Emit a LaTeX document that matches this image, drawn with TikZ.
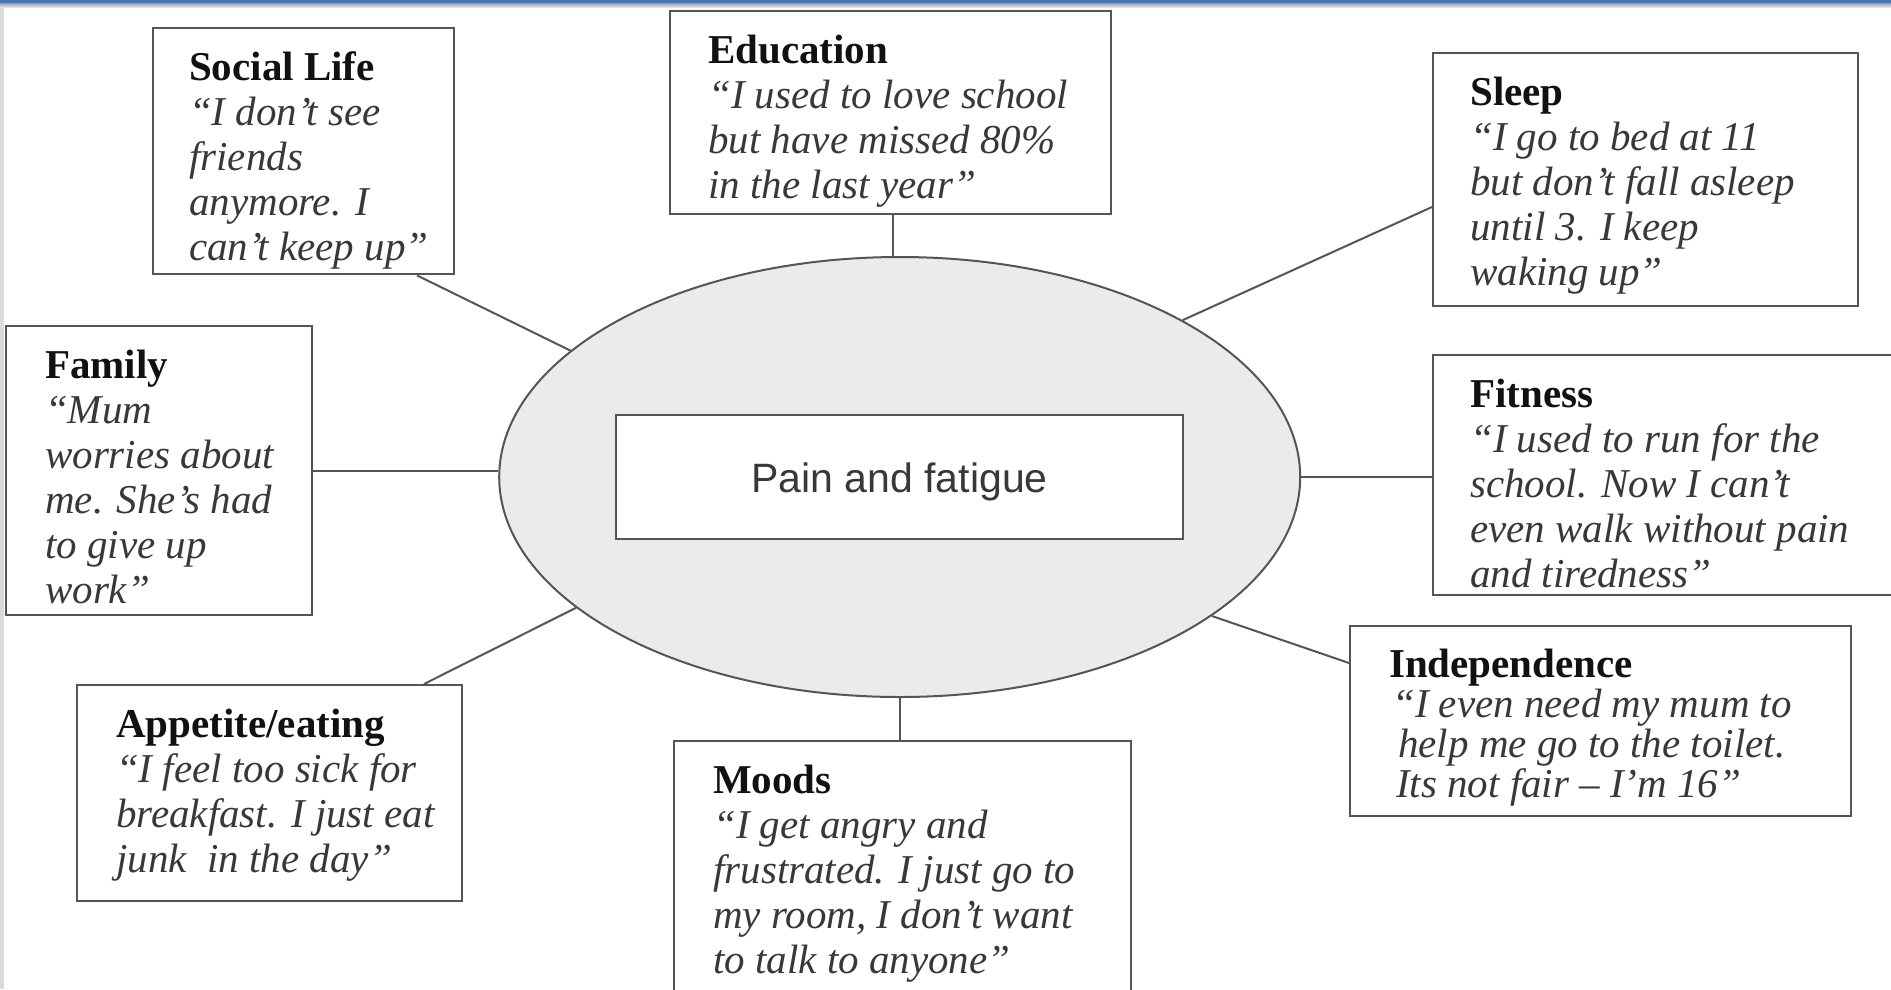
\documentclass[tikz,border=0pt]{standalone}
\usepackage{fontspec}
\setmainfont{Liberation Serif}
\newfontfamily\centerfont{Liberation Sans}
\usetikzlibrary{calc,shapes.geometric}
\definecolor{linegray}{HTML}{555555}
\definecolor{ellfill}{HTML}{EBEBEB}
\definecolor{txtgray}{HTML}{383838}
\definecolor{titleblack}{HTML}{111111}
\definecolor{barblue}{HTML}{4A74B8}
\definecolor{stripgray}{HTML}{DADADA}
\begin{document}
\begin{tikzpicture}[x=1pt,y=-1pt,
  qbox/.style={draw=linegray, line width=2.4pt, fill=white, inner sep=0pt, anchor=north west},
  qtext/.style={anchor=north west, inner sep=0pt, align=left, text=txtgray, font=\fontsize{41}{45}\selectfont},
  qtexttight/.style={qtext, font=\fontsize{41}{40}\selectfont},
  link/.style={draw=linegray, line width=2pt}]
\useasboundingbox (0,0) rectangle (1891,989);
\fill[white] (0,0) rectangle (1891,989);

% quote boxes
\node[qbox, minimum width=301pt, minimum height=246pt] (social) at (152,27) {};
\node[qbox, minimum width=441pt, minimum height=203pt] (edu) at (669,10) {};
\node[qbox, minimum width=425pt, minimum height=253pt] (sleep) at (1432,52) {};
\node[qbox, minimum width=306pt, minimum height=289pt] (family) at (5,325) {};
\node[qbox, minimum width=480pt, minimum height=240pt] (fitness) at (1432,354) {};
\node[qbox, minimum width=501pt, minimum height=190pt] (indep) at (1349,625) {};
\node[qbox, minimum width=385pt, minimum height=216pt] (appetite) at (76,684) {};
\node[qbox, minimum width=457pt, minimum height=290pt] (moods) at (673,740) {};

% texts
\node[qtext] (socialtxt) at ($(social.north west)+(37,21)$)
  {\rule{0pt}{32pt}{\bfseries\color{titleblack}Social Life}\\ \itshape “I don’t see\\ \itshape friends\\ \itshape anymore. I\\ \itshape can’t keep up”};
\node[qtext] (edutxt) at ($(edu.north west)+(39,21)$)
  {\rule{0pt}{32pt}{\bfseries\color{titleblack}Education}\\ \itshape “I used to love school\\ \itshape but have missed 80\%\\ \itshape in the last year”};
\node[qtext] (sleeptxt) at ($(sleep.north west)+(38,21)$)
  {\rule{0pt}{32pt}{\bfseries\color{titleblack}Sleep}\\ \itshape “I go to bed at 11\\ \itshape but don’t fall asleep\\ \itshape until 3. I keep\\ \itshape waking up”};
\node[qtext] (familytxt) at ($(family.north west)+(40,21)$)
  {\rule{0pt}{32pt}{\bfseries\color{titleblack}Family}\\ \itshape “Mum\\ \itshape worries about\\ \itshape me. She’s had\\ \itshape to give up\\ \itshape work”};
\node[qtext] (fitnesstxt) at ($(fitness.north west)+(38,21)$)
  {\rule{0pt}{32pt}{\bfseries\color{titleblack}Fitness}\\ \itshape “I used to run for the\\ \itshape school. Now I can’t\\ \itshape even walk without pain\\ \itshape and tiredness”};
\node[qtexttight] (indeptxt) at ($(indep.north west)+(40,20)$)
  {\rule{0pt}{32pt}{\bfseries\color{titleblack}Independence}\\ \itshape\hspace*{3pt}“I even need my mum to\\ \itshape\hspace*{9pt}help me go to the toilet.\\ \itshape\hspace*{7pt}Its not fair – I’m 16”};
\node[qtext] (appetitetxt) at ($(appetite.north west)+(40,21)$)
  {\rule{0pt}{32pt}{\bfseries\color{titleblack}Appetite/eating}\\ \itshape “I feel too sick for\\ \itshape breakfast. I just eat\\ \itshape junk\ \ in the day”};
\node[qtext] (moodstxt) at ($(moods.north west)+(40,21)$)
  {\rule{0pt}{32pt}{\bfseries\color{titleblack}Moods}\\ \itshape “I get angry and\\ \itshape frustrated. I just go to\\ \itshape my room, I don’t want\\ \itshape to talk to anyone”};

% central ellipse and core box
\node[ellipse, draw=linegray, line width=2pt, fill=ellfill, minimum width=801pt, minimum height=440pt, inner sep=0pt] (ell) at (899.7,477) {};
\node[draw=linegray, line width=2.2pt, fill=white, minimum width=567pt, minimum height=124pt, inner sep=0pt, text height=30pt, text depth=0pt, font=\centerfont\fontsize{41}{45}\selectfont, text=txtgray] (core) at (899.5,477) {Pain and fatigue};

% connectors
\coordinate (socialtap) at ($(social.south west)+(265,0)$);
\coordinate (edutap) at ($(edu.south west)+(224,0)$);
\coordinate (sleeptap) at ($(sleep.north west)+(0,155)$);
\coordinate (indeptap) at ($(indep.north west)+(0,38)$);
\coordinate (appetitetap) at ($(appetite.north west)+(348,0)$);
\draw[link] (socialtap) -- (ell.159.6);
\draw[link] (edutap) -- (edutap |- ell.north);
\draw[link] (sleeptap) -- (ell.29.1);
\draw[link] (family.east) -- (family.east -| ell.west);
\draw[link] (ell.east) -- (ell.east -| fitness.west);
\draw[link] (ell.336.6) -- (indeptap);
\draw[link] (ell.202) -- (appetitetap);
\draw[link] (ell.south) -- (ell.south |- moods.north);

% window frame
\fill[stripgray] (0,0) rectangle (3.7,989);
\shade[top color=gray!85, bottom color=gray!15] (0,2.5) rectangle (1891,7.5);
\fill[barblue] (0,0) rectangle (1891,2.5);
\end{tikzpicture}
\end{document}
